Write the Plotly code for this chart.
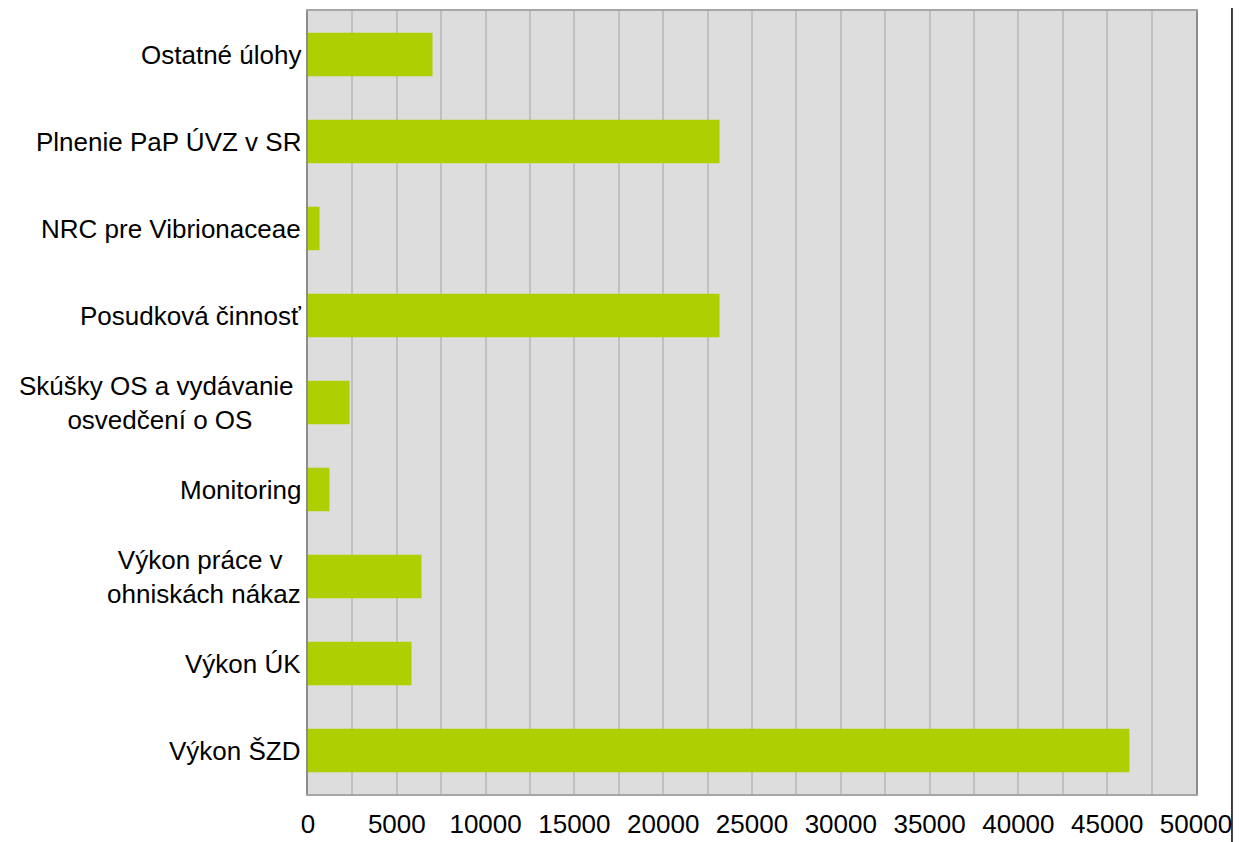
import plotly.graph_objects as go

categories = [
    "Výkon ŠZD",
    "Výkon ÚK",
    "Výkon práce v\u00a0<br>ohniskách nákaz",
    "Monitoring",
    "Skúšky OS a vydávanie\u00a0<br>osvedčení o OS",
    "Posudková činnosť",
    "NRC pre Vibrionaceae",
    "Plnenie PaP ÚVZ v SR",
    "Ostatné úlohy",
]
values = [46250, 5830, 6390, 1210, 2340, 23170, 650, 23170, 7010]
x_ticks = [0, 5000, 10000, 15000, 20000, 25000, 30000, 35000, 40000, 45000, 50000]

FONT = "Liberation Sans, Arial, sans-serif"
OFF = 8  # browser body margin
W, H = 1242 - OFF, 842 - OFF
L, T = 307.5 - OFF, 11 - OFF
R = W - (1196 - OFF)
B = H - (794 - OFF)
pw = W - L - R

fig = go.Figure()
fig.add_trace(go.Bar(
    y=list(range(len(categories))), x=values, orientation="h",
    marker=dict(color="#AFD000", line=dict(width=0)),
    hoverinfo="x",
))

for i, c in enumerate(categories):
    fig.add_annotation(
        x=0, xref="paper", y=i, yref="y", text=c, showarrow=False,
        xanchor="right", yanchor="middle", align="center", xshift=-5,
        font=dict(family=FONT, size=26, color="#000000"),
    )

fig.update_layout(
    width=W, height=H,
    margin=dict(l=L, r=R, t=T, b=B, pad=0, autoexpand=False),
    paper_bgcolor="white", plot_bgcolor="#DDDDDD",
    bargap=0.5, showlegend=False,
    font=dict(family=FONT, size=26, color="#000000"),
    xaxis=dict(
        range=[0, 50000], tickvals=x_ticks, ticktext=[str(v) for v in x_ticks],
        showgrid=True, gridcolor="#C0C0C0", gridwidth=1.5,
        minor=dict(dtick=2500, showgrid=True, gridcolor="#C0C0C0", gridwidth=1.5),
        showline=True, linecolor="#A6A6A6", linewidth=1.5, mirror=True,
        ticks="", zeroline=False, ticklabelstandoff=6, automargin=False,
        tickfont=dict(family=FONT, size=26, color="#000000"),
    ),
    yaxis=dict(
        range=[-0.5, len(categories) - 0.5], showticklabels=False,
        showgrid=False, zeroline=False, automargin=False,
        showline=True, linecolor="#8C8C8C", linewidth=2, mirror=True, ticks="",
    ),
)

# outer chart frame (black right edge)
px = 1232.0 - OFF
xp = (px - L) / pw
fig.add_shape(type="line", xref="paper", yref="paper",
              x0=xp, x1=xp, y0=-B / (H - T - B) - 0.01, y1=1 + T / (H - T - B) + 0.01,
              line=dict(color="#000000", width=1.5), layer="above")

fig.write_html("out.html")
